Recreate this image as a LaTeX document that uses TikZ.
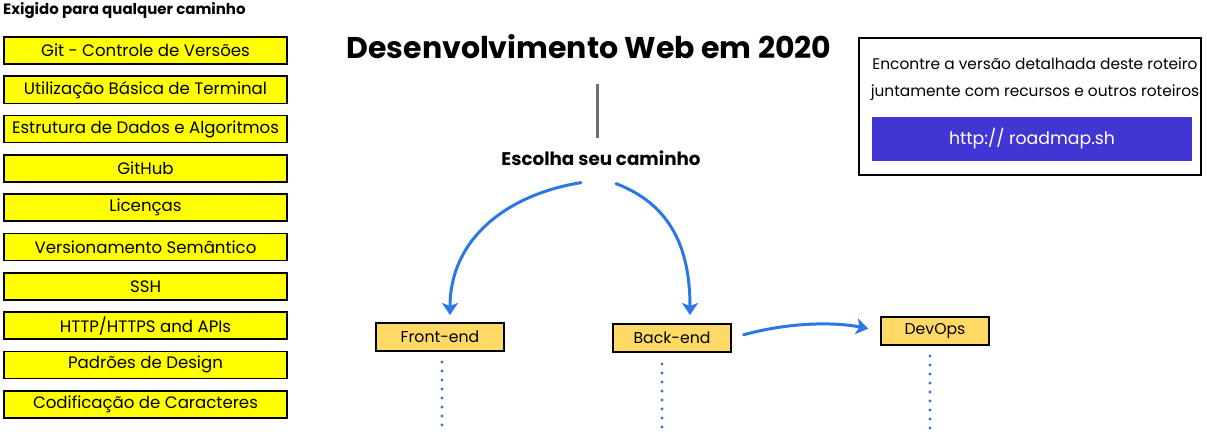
\documentclass[tikz,border=0pt]{standalone}
\usepackage{fontspec}
\setmainfont{Poppins}
\usetikzlibrary{arrows.meta,positioning}
\definecolor{reqyellow}{HTML}{FFFF00}
\definecolor{roleorange}{HTML}{FFD966}
\definecolor{pathblue}{HTML}{2B78E4}
\definecolor{sitepurple}{HTML}{4136D4}
\definecolor{stemgray}{HTML}{6D6D6D}

\begin{document}
\begin{tikzpicture}[
    x=1pt, y=-1pt,
    node distance=10.7pt,
    req/.style={draw, line width=1.6pt, fill=reqyellow, minimum width=283.4pt, minimum height=27pt, inner sep=0pt, font=\fontsize{16.6}{18}\selectfont},
    role/.style={draw, line width=1.6pt, fill=roleorange, minimum height=28.4pt, inner sep=0pt, font=\fontsize{15.7}{17}\selectfont},
    heading/.style={inner sep=0pt, font=\bfseries\fontsize{#1}{#1}\selectfont},
    blurb/.style={inner sep=0pt, font=\fontsize{15.4}{17}\selectfont},
    promo/.style={draw, line width=1.6pt, minimum width=342.4pt, minimum height=137.4pt},
    button/.style={fill=sitepurple, text=white, minimum width=320pt, minimum height=44pt, font=\fontsize{17.3}{19}\selectfont},
    arrow/.style={draw=pathblue, line width=3pt, line cap=round, -{Stealth[length=12pt, width=16pt, inset=3pt]}},
    dots/.style={draw=pathblue, line width=3.2pt, line cap=round, dash pattern=on 0pt off 9pt},
    stem/.style={draw=stemgray, line width=3pt}
]
\useasboundingbox (0,0) rectangle (1207,436);

% required for every path
\node[heading=15, anchor=west] (need) at (3,11) {Exigido para qualquer caminho};
\node[req] (git) at (145.5,50.5) {Git - Controle de Versões};
\node[req, below=of git] (terminal) {Utilização Básica de Terminal};
\node[req, below=of terminal] (algo) {Estrutura de Dados e Algoritmos};
\node[req, below=of algo] (github) {GitHub};
\node[req, below=of github] (licenses) {Licenças};
\node[req, below=of licenses] (semver) {Versionamento Semântico};
\node[req, below=of semver] (ssh) {SSH};
\node[req, below=of ssh] (http) {HTTP/HTTPS and APIs};
\node[req, below=of http] (patterns) {Padrões de Design};
\node[req, below=of patterns] (charset) {Codificação de Caracteres};

% title and choice
\node[heading=30] (title) at (589,47) {Desenvolvimento Web em 2020};
\node[heading=18.3] (choose) at (601,158) {Escolha seu caminho};
\draw[stem, shorten <=25pt, shorten >=12pt] ([xshift=-4pt]choose.north |- title.south) -- ([xshift=-4pt]choose.north);

% link box
\node[promo] (promo) at (1030,106.5) {};
\node[blurb] (find) at (1035,64) {Encontre a versão detalhada deste roteiro};
\node[blurb] (along) at (1035,93) {juntamente com recursos e outros roteiros};
\node[button] (site) at (1032,139) {http:// roadmap.sh};

% roles
\node[role, minimum width=128.4pt] (front) at (440,337) {Front-end};
\node[role, minimum width=118.4pt] (back) at (672,338) {Back-end};
\node[role, minimum width=108.4pt] (devops) at (935,331) {DevOps};

\coordinate (fork-l) at ([xshift=-20pt, yshift=-17pt]choose.south);
\coordinate (fork-r) at ([xshift=15pt, yshift=-18pt]choose.south);
\draw[arrow, shorten >=7pt] (fork-l) .. controls (505,195) and (450,240) .. ([xshift=10pt]front.north);
\draw[arrow, shorten >=8pt] (fork-r) .. controls (672,205) and (690,250) .. ([xshift=18pt]back.north);
\draw[arrow, shorten <=12pt, shorten >=12pt] (back.east) .. controls (790,322) and (835,322) .. (devops.west);

% more to come
\coordinate (front-tail) at (442,430);
\coordinate (back-tail) at (662,430);
\coordinate (devops-tail) at (930,434);
\draw[dots, shorten <=10pt] (front.south -| front-tail) -- (front-tail);
\draw[dots, shorten <=11pt] (back.south -| back-tail) -- (back-tail);
\draw[dots, shorten <=10pt] (devops.south -| devops-tail) -- (devops-tail);

\end{tikzpicture}
\end{document}
